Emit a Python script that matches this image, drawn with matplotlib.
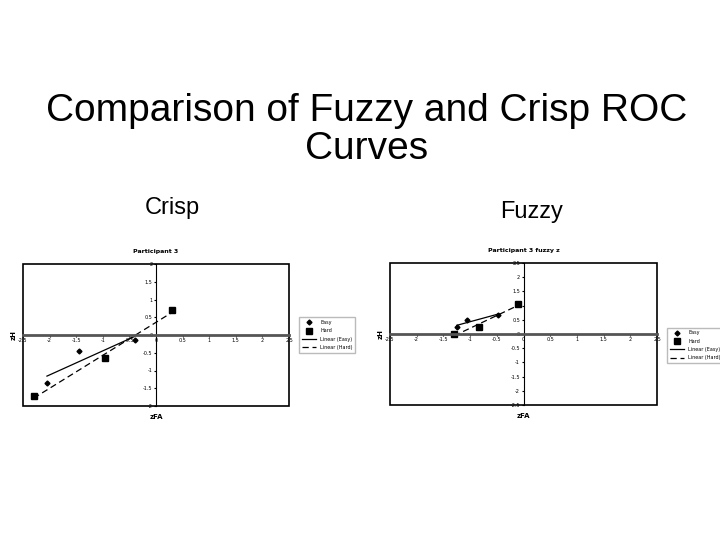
import matplotlib
matplotlib.use("Agg")
import matplotlib.pyplot as plt
import numpy as np
from matplotlib.patches import Rectangle

crisp_easy_x = [-2.05, -1.45, -0.4]
crisp_easy_y = [-1.35, -0.45, -0.15]
crisp_hard_x = [-2.3, -0.95, 0.3]
crisp_hard_y = [-1.72, -0.65, 0.7]
fuzzy_easy_x = [-1.25, -1.05, -0.48]
fuzzy_easy_y = [0.25, 0.48, 0.68]
fuzzy_hard_x = [-1.3, -0.83, -0.1]
fuzzy_hard_y = [0.0, 0.25, 1.05]
xticks = [-2.5, -2, -1.5, -1, -0.5, 0, 0.5, 1, 1.5, 2, 2.5]

W, H = 720, 540
fig = plt.figure(figsize=(7.2, 5.4), dpi=100)
fig.text(367/W, 1 - 130/H, "Comparison of Fuzzy and Crisp ROC\nCurves", ha="center", va="center",
         fontsize=28, family="Liberation Sans", linespacing=1.1)
fig.text(172/W, 1 - 208/H, "Crisp", ha="center", va="center", fontsize=17, family="Liberation Sans")
fig.text(532/W, 1 - 212/H, "Fuzzy", ha="center", va="center", fontsize=17, family="Liberation Sans")

def panel(box, title, ex, ey, hx, hy, ylim, yticks, legbox):
    l, t, r, b = box
    ax = fig.add_axes([l/W, 1-b/H, (r-l)/W, (b-t)/H])
    ax.set_xlim(-2.5, 2.5); ax.set_ylim(*ylim)
    for s in ["top", "right"]:
        ax.spines[s].set_visible(False)
    ax.spines["left"].set_position("zero"); ax.spines["bottom"].set_position("zero")
    ax.spines["bottom"].set_linewidth(2); ax.spines["bottom"].set_color("#555555")
    ax.add_patch(Rectangle((0, 0), 1, 1, transform=ax.transAxes, fill=False, lw=1.2, color="black", clip_on=False))
    ax.set_xticks(xticks); ax.set_yticks(yticks)
    ax.set_xticklabels([f"{v:g}" for v in xticks])
    ax.set_yticklabels([f"{v:g}" for v in yticks])
    ax.tick_params(labelsize=3.5, length=1.5, pad=1)
    ax.set_title(title, fontsize=4.5, fontweight="bold", pad=8)
    ax.text(-0.035, 0.5, "zH", transform=ax.transAxes, rotation=90, fontsize=5, fontweight="bold", va="center", ha="center")
    ax.text(0.5, -0.09, "zFA", transform=ax.transAxes, fontsize=5, fontweight="bold", ha="center")
    ax.plot(ex, ey, "D", color="black", ms=2.5, label="Easy")
    ax.plot(hx, hy, "s", color="black", ms=4, label="Hard")
    pe = np.polyfit(ex, ey, 1); ph = np.polyfit(hx, hy, 1)
    xe = np.array([min(ex), max(ex)]); xh = np.array([min(hx), max(hx)])
    ax.plot(xe, np.polyval(pe, xe), "-", color="black", lw=0.9, label="Linear (Easy)")
    ax.plot(xh, np.polyval(ph, xh), "--", color="black", lw=0.9, dashes=(5, 3), label="Linear (Hard)")
    ax.legend(loc="center left", bbox_to_anchor=legbox, fontsize=3.5, frameon=True, fancybox=False,
              edgecolor="#aaaaaa", handlelength=3, borderpad=0.5, labelspacing=0.7)

panel((23, 264, 289, 406), "Participant 3", crisp_easy_x, crisp_easy_y, crisp_hard_x, crisp_hard_y,
      (-2, 2), [-2, -1.5, -1, -0.5, 0, 0.5, 1, 1.5, 2], (1.03, 0.5))
panel((390, 263, 657, 405), "Participant 3 fuzzy z", fuzzy_easy_x, fuzzy_easy_y, fuzzy_hard_x, fuzzy_hard_y,
      (-2.5, 2.5), [-2.5, -2, -1.5, -1, -0.5, 0, 0.5, 1, 1.5, 2, 2.5], (1.03, 0.42))

fig.savefig("out.png", dpi=100)
